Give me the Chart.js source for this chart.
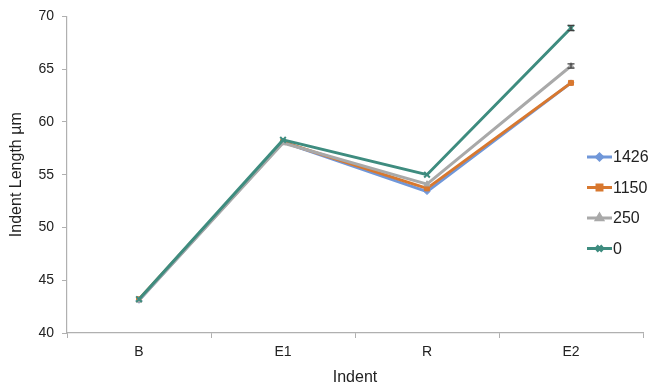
<!DOCTYPE html>
<html lang="en">
<head>
    <meta charset="UTF-8">
    <title>Indent Length</title>
    <script src="https://cdn.jsdelivr.net/npm/chart.js"></script>
    <style>
        html, body {
            margin: 0;
            padding: 0;
            background: #fff;
        }
        #wrap {
            width: 651px;
            height: 387px;
        }
    </style>
</head>
<body>
    <div id="wrap"><canvas id="myChart"></canvas></div>

    <script>
        // Datos
        const categorias = ['B', 'E1', 'R', 'E2'];
        const series = ['1426', '1150', '250', '0'];
        const serie1426 = [43.1, 58.1, 53.4, 63.7];
        const serie1150 = [43.2, 58.1, 53.7, 63.7];
        const serie250 = [43.1, 58.0, 54.1, 65.3];
        const serie0 = [43.2, 58.3, 55.0, 68.9];
        const error1426 = [0, 0, 0, 0];
        const error1150 = [0, 0, 0, 0];
        const error250 = [0, 0, 0, 0.2];
        const error0 = [0, 0, 0, 0.25];
        const yTicks = [40, 45, 50, 55, 60, 65, 70];

        const colores = ['#7097d9', '#d8782f', '#a9a9a9', '#3e8c7f'];
        const marcadores = ['rectRot', 'rect', 'triangle', 'crossRot'];
        const tamanos = [3, 3.5, 3.5, 4];
        const errores = [error1426, error1150, error250, error0];

        // Barras de error
        const errorBars = {
            id: 'errorBars',
            afterDatasetsDraw(chart) {
                const ctx = chart.ctx;
                const y = chart.scales.y;
                ctx.save();
                ctx.strokeStyle = '#404040';
                ctx.lineWidth = 1.2;
                chart.data.datasets.forEach((ds, i) => {
                    const meta = chart.getDatasetMeta(i);
                    meta.data.forEach((pt, j) => {
                        const v = ds.data[j];
                        const e = errores[i][j];
                        if (!e) return;
                        const top = y.getPixelForValue(v + e);
                        const bot = y.getPixelForValue(v - e);
                        ctx.beginPath();
                        ctx.moveTo(pt.x, top);
                        ctx.lineTo(pt.x, bot);
                        ctx.moveTo(pt.x - 3.5, top);
                        ctx.lineTo(pt.x + 3.5, top);
                        ctx.moveTo(pt.x - 3.5, bot);
                        ctx.lineTo(pt.x + 3.5, bot);
                        ctx.stroke();
                    });
                });
                ctx.restore();
            }
        };

        // Leyenda a la derecha, encima del area
        const leyenda = {
            id: 'leyenda',
            afterDraw(chart) {
                const ctx = chart.ctx;
                ctx.save();
                ctx.font = '16px "Liberation Sans", Arial, sans-serif';
                ctx.textBaseline = 'middle';
                chart.data.datasets.forEach((ds, i) => {
                    const yy = 157 + i * 30.5;
                    ctx.strokeStyle = ds.borderColor;
                    ctx.lineWidth = 3;
                    ctx.beginPath();
                    ctx.moveTo(587, yy);
                    ctx.lineTo(612, yy);
                    ctx.stroke();
                    ctx.fillStyle = ds.borderColor;
                    Chart.helpers.drawPoint(ctx, {
                        pointStyle: ds.pointStyle,
                        radius: ds.pointRadius,
                        borderWidth: ds.pointStyle === 'crossRot' ? 2 : 1
                    }, 599.5, yy);
                    ctx.fillStyle = '#222';
                    ctx.fillText(ds.label, 613, yy + 1);
                });
                ctx.restore();
            }
        };

        const ctx = document.getElementById('myChart').getContext('2d');
        const datos = [serie1426, serie1150, serie250, serie0];

        new Chart(ctx, {
            type: 'line',
            data: {
                labels: categorias,
                datasets: series.map((nombre, i) => ({
                    label: nombre,
                    data: datos[i],
                    order: series.length - i,
                    borderColor: colores[i],
                    backgroundColor: colores[i],
                    pointBackgroundColor: colores[i],
                    pointBorderColor: colores[i],
                    pointStyle: marcadores[i],
                    pointRadius: tamanos[i],
                    pointBorderWidth: marcadores[i] === 'crossRot' ? 2 : 1,
                    borderWidth: 3,
                    tension: 0
                }))
            },
            options: {
                responsive: true,
                maintainAspectRatio: false,
                animation: false,
                layout: {
                    padding: { left: 0, right: 8, top: 14, bottom: 0 }
                },
                plugins: {
                    legend: { display: false },
                    tooltip: { enabled: false }
                },
                scales: {
                    x: {
                        offset: true,
                        grid: {
                            offset: true,
                            drawOnChartArea: false,
                            color: '#b0b0b0',
                            tickLength: 5
                        },
                        border: { color: '#b0b0b0', width: 1.2 },
                        ticks: {
                            color: '#222',
                            font: { family: '"Liberation Sans", Arial', size: 14 },
                            padding: 6
                        },
                        title: {
                            display: true,
                            text: 'Indent',
                            color: '#222',
                            font: { family: '"Liberation Sans", Arial', size: 16 },
                            padding: { top: 4, bottom: 0 }
                        },
                        afterFit(scale) { scale.height = 54; }
                    },
                    y: {
                        min: 40,
                        max: 70,
                        afterBuildTicks(scale) {
                            scale.ticks = yTicks.map(v => ({ value: v }));
                        },
                        grid: {
                            drawOnChartArea: false,
                            color: '#b0b0b0',
                            tickLength: 5
                        },
                        border: { color: '#b0b0b0', width: 1.2 },
                        ticks: {
                            color: '#222',
                            font: { family: '"Liberation Sans", Arial', size: 14 },
                            padding: 8
                        },
                        title: {
                            display: true,
                            text: 'Indent Length µm',
                            color: '#222',
                            font: { family: '"Liberation Sans", Arial', size: 16 },
                            padding: { top: 7, bottom: 4 }
                        },
                        afterFit(scale) { scale.width = 67; }
                    }
                }
            },
            plugins: [errorBars, leyenda]
        });
    </script>
</body>
</html>
